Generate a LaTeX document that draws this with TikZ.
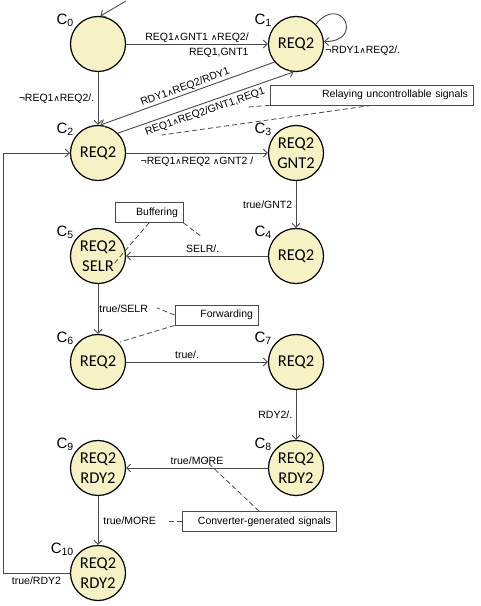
\documentclass[tikz,border=0pt]{standalone}
\usepackage{fontspec}
\setmainfont{Liberation Sans}
\newfontfamily\statefont{Carlito}
\newfontfamily\symfont{DejaVu Sans}
\usepackage{tikz}
\usetikzlibrary{arrows.meta}
\definecolor{statebg}{HTML}{F7F2C6}
\definecolor{edge}{HTML}{4A4A4A}
\newcommand{\AND}{{\symfont\fontsize{8.5}{9}\selectfont ∧}}
\newcommand{\NOT}{¬}
\tikzset{
  state/.style={circle, draw=black, line width=1.2pt, fill=statebg, minimum size=55pt, inner sep=0pt, align=center, font=\statefont\fontsize{16.5}{20}\selectfont},
  clab/.style={font=\fontsize{15}{16}\selectfont, inner sep=1pt},
  tr/.style={draw=edge, line width=0.9pt, -{Straight Barb[length=4pt,width=8pt]}},
  lab/.style={font=\fontsize{10.5}{12}\selectfont},
  note/.style={draw=edge, line width=0.8pt, fill=white, align=right, inner xsep=5pt, minimum height=20pt, font=\fontsize{10.5}{12}\selectfont},
  pointer/.style={draw=edge, dash pattern=on 5pt off 3pt, line width=0.8pt},
}

\begin{document}
\begin{tikzpicture}[x=1pt, y=1pt]
  \useasboundingbox (0,0) rectangle (480,606);
  \node[state, label={[clab]145:C\textsubscript{0}}] (c0) at (98,562) {};
  \node[state, label={[clab]145:C\textsubscript{1}}] (c1) at (296,562) {REQ2};
  \node[state, label={[clab]145:C\textsubscript{2}}] (c2) at (98,453) {REQ2};
  \node[state, label={[clab]145:C\textsubscript{3}}] (c3) at (296,453) {REQ2\\GNT2};
  \node[state, label={[clab]145:C\textsubscript{4}}] (c4) at (296,350) {REQ2};
  \node[state, label={[clab]145:C\textsubscript{5}}] (c5) at (98,350) {REQ2\\SELR};
  \node[state, label={[clab]145:C\textsubscript{6}}] (c6) at (98,244) {REQ2};
  \node[state, label={[clab]145:C\textsubscript{7}}] (c7) at (296,244) {REQ2};
  \node[state, label={[clab]145:C\textsubscript{8}}] (c8) at (296,138) {REQ2\\RDY2};
  \node[state, label={[clab]145:C\textsubscript{9}}] (c9) at (98,138) {REQ2\\RDY2};
  \node[state, label={[clab]145:C\textsubscript{10}}] (c10) at (98,33) {REQ2\\RDY2};

  \coordinate (start) at (126,605);
  \coordinate (back) at (3,33);
  \coordinate (relayA) at (248,499);
  \coordinate (relayB) at (162,471);
  \coordinate (bufA) at (113,341);
  \coordinate (bufB) at (202,369);
  \coordinate (fwdA) at (157,298);
  \coordinate (fwdB) at (120,264);
  \coordinate (convA) at (205,146);
  \coordinate (convB) at (168,84.5);

  \draw[tr] (start) -- (c0.85);
  \draw[tr] (c0) -- (c1) node[lab, midway, above, inner sep=1pt] {REQ1\AND GNT1 \AND REQ2/}
    node[lab, pos=0.89, below left] {REQ1,GNT1};
  \draw[tr] (c1.45) to[out=50, in=0, looseness=5.4]
    node[lab, pos=1, anchor=north west, inner sep=1pt, yshift=-3pt] {\NOT RDY1\AND REQ2/.} (c1.5);
  \draw[tr] (c0) -- (c2) node[lab, midway, left] {\NOT REQ1\AND REQ2/.};
  \draw[tr] (c1.220) -- (c2.85) node[lab, midway, sloped, above, inner sep=1.5pt] {RDY1\AND REQ2/RDY1};
  \draw[tr] (c2.45) -- (c1.265) node[lab, pos=0.48, sloped, below] {REQ1\AND REQ2/GNT1,REQ1};
  \draw[tr] (c2) -- (c3) node[lab, midway, below] {\NOT REQ1\AND REQ2 \AND GNT2 /};
  \draw[tr] (c3) -- (c4) node[lab, midway, left] {true/GNT2};
  \draw[tr] (c4) -- (c5) node[lab, pos=0.46, above] {SELR/.};
  \draw[tr] (c5) -- (c6) node[lab, midway, right, inner sep=1pt] {true/SELR};
  \draw[tr] (c6) -- (c7) node[lab, pos=0.43, above] {true/.};
  \draw[tr] (c7) -- (c8) node[lab, midway, left] {RDY2/.};
  \draw[tr] (c8) -- (c9) node[lab, midway, above] {true/MORE};
  \draw[tr] (c9) -- (c10) node[lab, midway, right, inner sep=5pt] {true/MORE};
  \draw[tr] (c10.west) -- (back) node[lab, midway, below] {true/RDY2} |- (c2.west);

  \node[note, text width=193pt] (relay) at (371.5,511) {Relaying uncontrollable signals};
  \node[note, text width=58pt] (buffer) at (149,393.5) {Buffering};
  \node[note, text width=73pt] (fwd) at (216.5,291) {Forwarding};
  \node[note, text width=144pt] (conv) at (259,84.5) {Converter-generated signals};

  \draw[pointer] (relay.south west) -- (relayA);
  \draw[pointer] (relay.south) -- (relayB);
  \draw[pointer] (buffer.south) -- (bufA);
  \draw[pointer] (buffer.south east) -- (bufB);
  \draw[pointer] (fwd.west) -- (fwdA);
  \draw[pointer] (fwd.south west) -- (fwdB);
  \draw[pointer] (conv.north) -- (convA);
  \draw[pointer] (conv.west) -- (convB);
\end{tikzpicture}
\end{document}
